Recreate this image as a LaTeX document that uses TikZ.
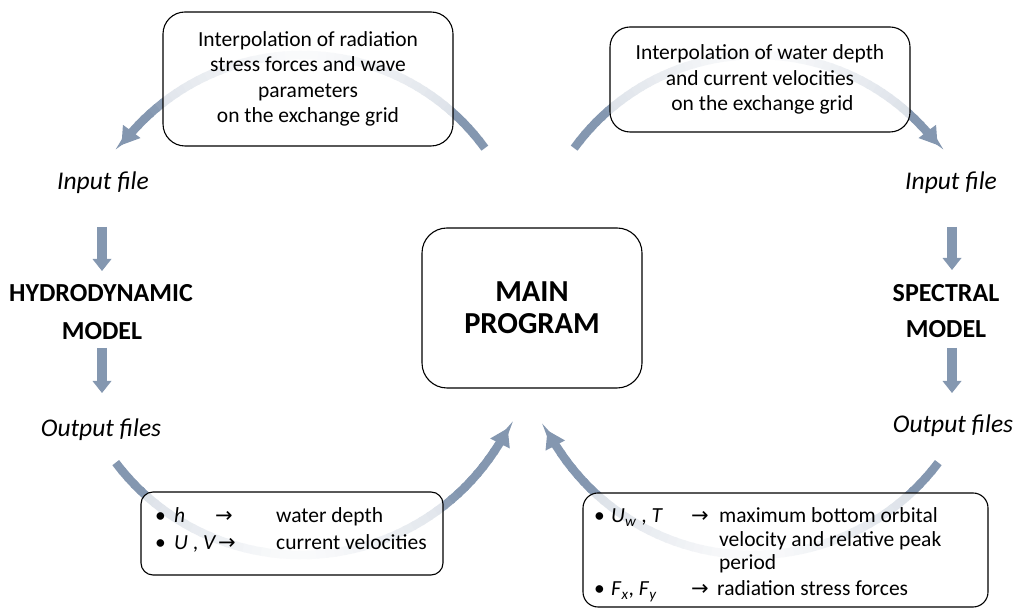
\documentclass[tikz,border=0pt]{standalone}
\usepackage{fontspec}
\setmainfont{Carlito}
\newfontfamily\arrowfont{DejaVu Sans}
\usetikzlibrary{arrows.meta}
\definecolor{arcdark}{RGB}{132,151,176}
\definecolor{arclight}{RGB}{242,244,248}
\newcommand{\gradarc}[6]{%
  \foreach \k in {0,...,47}{%
    \pgfmathsetmacro\gaA{#3+\k*(#4-#3)/48}%
    \pgfmathsetmacro\gaB{#3+(\k+1.3)*(#4-#3)/48}%
    \pgfmathsetmacro\gaM{#3+(\k+0.5)*(#4-#3)/48}%
    \pgfmathsetmacro\gaP{100*(max(0.01,min(1,(1-(#6)*sin(\gaM))/0.26)))^0.6}%
    \draw[arcline, draw=arcdark!\gaP!arclight] (#1) ++(\gaA:#2pt) arc[start angle=\gaA, end angle=\gaB, radius=#2pt];
  }%
  \draw[arcline, draw=arcdark, -{Triangle[width=22pt,length=17pt,line width=0pt]}] (#1) ++(#4:#2pt) arc[start angle=#4, end angle=#5, radius=#2pt];
}
\begin{document}
\begin{tikzpicture}[x=1pt,y=1pt,
  arcline/.style={line width=8.5pt},
  box/.style={draw=black, line width=1.1pt, fill=white, fill opacity=0.72, text opacity=1, inner sep=0pt},
  txt/.style={font=\fontsize{21.5}{25.5}\selectfont, inner sep=0pt},
  arr/.style={font=\arrowfont\fontsize{21}{24}\selectfont, inner sep=0pt},
  lbl/.style={font=\fontsize{25.5}{30}\selectfont\itshape, inner sep=0pt},
  mdl/.style={font=\fontsize{26}{30}\selectfont\bfseries, inner sep=0pt},
  downarrow/.style={line width=9.5pt, draw=arcdark, -{Triangle[width=19pt,length=12pt,line width=0pt]}}]
\useasboundingbox (0,0) rectangle (1014,609);
% arc centres
\coordinate (cTL) at (302,328);
\coordinate (cTR) at (757,328);
\coordinate (cBL) at (301,286);
\coordinate (cBR) at (753,286);
\gradarc{cTL}{226}{36}{136}{143}{1}
\gradarc{cTR}{226}{144}{44}{37}{1}
\gradarc{cBL}{232}{217}{326}{333}{-1}
\gradarc{cBR}{232}{323}{214.6}{207.6}{-1}
% boxes
\node[box, rounded corners=22pt, minimum width=290pt, minimum height=134pt, align=center, txt] (tl) at (308,530)
  {Interpolation of radiation\\stress forces and wave\\parameters\\on the exchange grid};
\node[box, rounded corners=20pt, minimum width=300pt, minimum height=105pt, align=center, txt] (tr) at (760,529.5)
  {Interpolation of water depth\\and current velocities\\\ on the exchange grid};
\node[box, rounded corners=25pt, minimum width=220pt, minimum height=160pt, align=center,
  font=\fontsize{30.5}{32}\selectfont\bfseries] (main) at (532,301) {MAIN\\PROGRAM};
\node[box, rounded corners=12pt, minimum width=302pt, minimum height=83pt] (bl) at (292,75.5) {};
\node[box, rounded corners=15pt, minimum width=405pt, minimum height=114pt] (br) at (785.5,59) {};
% bottom-left box text
\node[txt, anchor=base west] (bl1b) at (155,86) {•};
\node[txt, anchor=base west] (bl1s) at (174,86) {\textit{h}};
\node[arr, anchor=base west] (bl1a) at (215,86) {→};
\node[txt, anchor=base west] (bl1t) at (276,86) {water depth};
\node[txt, anchor=base west] (bl2b) at (155,59) {•};
\node[txt, anchor=base west] (bl2s) at (174,59) {\textit{U} , \textit{V}};
\node[arr, anchor=base west] (bl2a) at (218,59) {→};
\node[txt, anchor=base west] (bl2t) at (276,59) {current velocities};
% bottom-right box text
\node[txt, anchor=base west] (br1b) at (594,86) {•};
\node[txt, anchor=base west] (br1s) at (611,86) {\textit{U}\textsubscript{\textit{w}} , \textit{T}};
\node[arr, anchor=base west] (br1a) at (691,86) {→};
\node[txt, anchor=base west] (br1t) at (719,86) {maximum bottom orbital};
\node[txt, anchor=base west] (br2t) at (719,62) {velocity and relative peak};
\node[txt, anchor=base west] (br3t) at (719,39) {period};
\node[txt, anchor=base west] (br4b) at (594,13) {•};
\node[txt, anchor=base west] (br4s) at (611,13) {\textit{F}\textsubscript{\textit{x}}, \textit{F}\textsubscript{\textit{y}}};
\node[arr, anchor=base west] (br4a) at (691,13) {→};
\node[txt, anchor=base west] (br4t) at (717,13) {radiation stress forces};
% left column
\node[lbl, anchor=base] (inL) at (103,419) {Input file};
\node[mdl, anchor=base] (hydL) at (101,307) {HYDRODYNAMIC};
\node[mdl, anchor=base] (modL) at (102,269) {MODEL};
\node[lbl, anchor=base] (outL) at (101,172) {Output files};
% right column
\node[lbl, anchor=base] (inR) at (951,419) {Input file};
\node[mdl, anchor=base] (spR) at (946,307) {SPECTRAL};
\node[mdl, anchor=base] (modR) at (946,271) {MODEL};
\node[lbl, anchor=base] (outR) at (953,176) {Output files};
% down arrows
\coordinate (la1) at (102,382); \coordinate (la2) at (102,338);
\coordinate (la3) at (102,261); \coordinate (la4) at (102,216);
\coordinate (ra1) at (952,382); \coordinate (ra2) at (952,339);
\coordinate (ra3) at (952,261); \coordinate (ra4) at (952,216);
\draw[downarrow] (la1) -- (la2);
\draw[downarrow] (la3) -- (la4);
\draw[downarrow] (ra1) -- (ra2);
\draw[downarrow] (ra3) -- (ra4);
\end{tikzpicture}
\end{document}
